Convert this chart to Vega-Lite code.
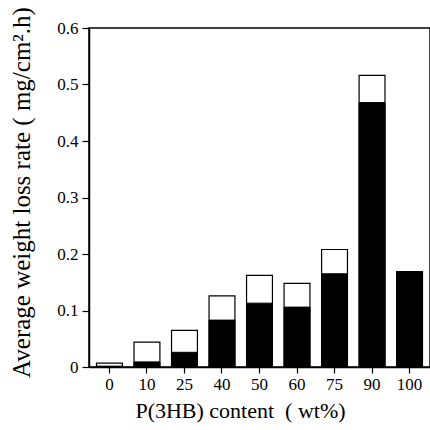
{
  "$schema": "https://vega.github.io/schema/vega-lite/v6.json",
  "width": 341,
  "height": 339,
  "autosize": {"type": "none"},
  "padding": {"left": 89, "top": 28, "right": 0, "bottom": 63},
  "background": "white",
  "config": {
    "view": {"stroke": "black", "strokeWidth": 1.5},
    "font": "Liberation Serif",
    "axis": {"grid": false, "domainColor": "black", "tickColor": "black", "labelColor": "black", "titleColor": "black", "labelFont": "Liberation Serif", "titleFont": "Liberation Serif", "titleFontWeight": "normal", "domainWidth": 1.5, "tickWidth": 1.2}
  },
  "data": {
    "values": [
      {"content": "0", "total": 0.007, "black": 0.0015},
      {"content": "10", "total": 0.044, "black": 0.009},
      {"content": "25", "total": 0.065, "black": 0.026},
      {"content": "40", "total": 0.126, "black": 0.083},
      {"content": "50", "total": 0.162, "black": 0.113},
      {"content": "60", "total": 0.148, "black": 0.106},
      {"content": "75", "total": 0.208, "black": 0.165},
      {"content": "90", "total": 0.516, "black": 0.468},
      {"content": "100", "total": 0.169, "black": 0.169}
    ]
  },
  "encoding": {
    "x": {
      "field": "content", "type": "ordinal", "sort": null,
      "scale": {"paddingInner": 0.31, "paddingOuter": 0.2},
      "axis": {"title": "P(3HB) content\u00a0\u00a0( wt%)", "labelAngle": 0, "labelFontSize": 17, "titleFontSize": 22, "tickSize": 6, "labelPadding": 3, "titleX": 151, "titleY": 33}
    }
  },
  "layer": [
    {
      "mark": {"type": "bar", "fill": "white", "stroke": "black", "strokeWidth": 1.2},
      "encoding": {
        "y": {
          "field": "total", "type": "quantitative",
          "scale": {"domain": [0, 0.6], "nice": false},
          "axis": {"title": "Average weight loss rate ( mg/cm².h)", "values": [0, 0.1, 0.2, 0.3, 0.4, 0.5, 0.6], "labelExpr": "datum.value == 0 ? '0' : format(datum.value, '.1f')", "labelFontSize": 17, "titleFontSize": 25, "tickSize": 7, "labelPadding": 4, "titleX": -55, "titleY": 164}
        }
      }
    },
    {
      "mark": {"type": "bar", "fill": "black", "stroke": "black", "strokeWidth": 1},
      "encoding": {
        "y": {"field": "black", "type": "quantitative"}
      }
    }
  ]
}
